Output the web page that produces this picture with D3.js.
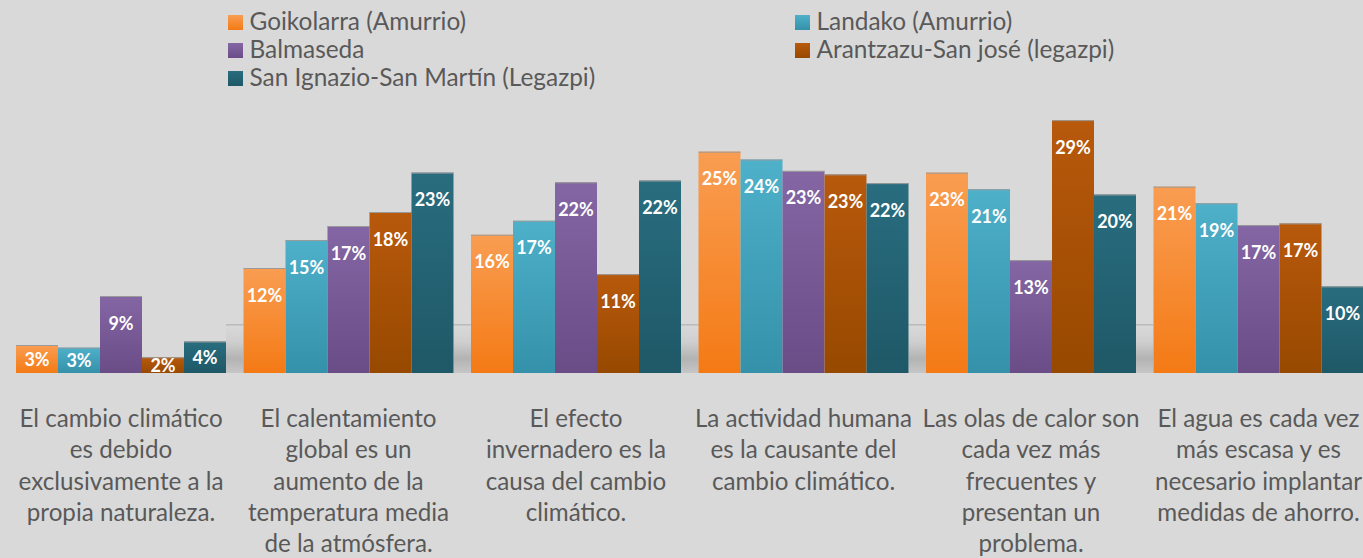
<!DOCTYPE html>
<html><head><meta charset="utf-8">
<script src="https://cdn.jsdelivr.net/npm/d3@7"></script>
<style>
html,body{margin:0;padding:0;background:#d9d9d9;overflow:hidden}
svg{display:block}
</style></head>
<body>
<script>
// ---- data ----
const categories = [
  "El cambio climático\nes debido\nexclusivamente a la\npropia naturaleza.",
  "El calentamiento\nglobal es un\naumento de la\ntemperatura media\nde la atmósfera.",
  "El efecto\ninvernadero es la\ncausa del cambio\nclimático.",
  "La actividad humana\nes la causante del\ncambio climático.",
  "Las olas de calor son\ncada vez más\nfrecuentes y\npresentan un\nproblema.",
  "El agua es cada vez\nmás escasa y es\nnecesario implantar\nmedidas de ahorro."
];
const seriesNames = [
  "Goikolarra (Amurrio)",
  "Landako (Amurrio)",
  "Balmaseda",
  "Arantzazu-San josé (legazpi)",
  "San Ignazio-San Martín (Legazpi)"
];
const goikolarra = [3.2, 12.0, 15.8, 25.3, 22.9, 21.3];
const landako    = [2.9, 15.2, 17.4, 24.4, 21.0, 19.4];
const balmaseda  = [8.8, 16.8, 21.8, 23.1, 12.9, 16.9];
const arantzazu  = [1.8, 18.4, 11.3, 22.7, 28.9, 17.1];
const sanIgnazio = [3.6, 22.9, 22.0, 21.7, 20.4, 9.9];
const seriesValues = [goikolarra, landako, balmaseda, arantzazu, sanIgnazio];
const colorsTop    = ["#f99d52", "#4eb0c9", "#8366a3", "#b8590c", "#286d7f"];
const colorsBottom = ["#f47a15", "#3591aa", "#6a4d87", "#974900", "#1f5867"];

// ---- layout ----
const W = 1363, H = 558;
const FONT = "Lato, 'Open Sans', sans-serif";
const svg = d3.select("body").append("svg").attr("width", W).attr("height", H);
svg.append("rect").attr("width", W).attr("height", H).attr("fill", "#d9d9d9");
const defs = svg.append("defs");
seriesNames.forEach((s, i) => {
  const g = defs.append("linearGradient").attr("id", "g" + i)
    .attr("x1", 0).attr("y1", 0).attr("x2", 0).attr("y2", 1);
  g.append("stop").attr("offset", "0%").attr("stop-color", colorsTop[i]);
  g.append("stop").attr("offset", "100%").attr("stop-color", colorsBottom[i]);
});
const sh = defs.append("linearGradient").attr("id", "shadow")
  .attr("x1", 0).attr("y1", 0).attr("x2", 0).attr("y2", 1);
sh.append("stop").attr("offset", "0%").attr("stop-color", "#d9d9d9");
sh.append("stop").attr("offset", "35%").attr("stop-color", "#cfcfcf");
sh.append("stop").attr("offset", "70%").attr("stop-color", "#b3b3b3");
sh.append("stop").attr("offset", "100%").attr("stop-color", "#c6c6c6");

const baseY = 373;
const x0 = d3.scaleBand().domain(d3.range(categories.length))
  .range([7.25, 1372.25]).paddingInner(17.5 / 227.5).paddingOuter(17.5 / 227.5 / 2);
const x1 = d3.scaleBand().domain(d3.range(seriesNames.length)).range([0, x0.bandwidth()]);
const y = d3.scaleLinear().domain([0, 30]).range([baseY, 110.5]);

// shadows in gaps between groups
const gaps = d3.range(categories.length - 1);
const shadowTop = y(5.5);
svg.append("g").selectAll("rect").data(gaps).join("rect")
  .attr("x", d => x0(d) + x0.bandwidth())
  .attr("width", x0.step() - x0.bandwidth())
  .attr("y", shadowTop).attr("height", baseY - shadowTop)
  .attr("fill", "url(#shadow)");
svg.append("g").selectAll("line").data(gaps).join("line")
  .attr("x1", d => x0(d) + x0.bandwidth())
  .attr("x2", d => x0(d + 1))
  .attr("y1", shadowTop).attr("y2", shadowTop)
  .attr("stroke", "#ababab").attr("stroke-width", 1);

// bars
const groups = svg.append("g").selectAll("g").data(categories).join("g")
  .attr("transform", (d, i) => `translate(${x0(i)},0)`);
const cells = groups.selectAll("g").data((d, ci) => seriesValues.map((vals, si) => ({ci, si, v: vals[ci]})))
  .join("g");
cells.append("rect")
  .attr("x", d => x1(d.si))
  .attr("width", x1.bandwidth())
  .attr("y", d => y(d.v))
  .attr("height", d => baseY - y(d.v))
  .attr("fill", d => `url(#g${d.si})`);
cells.append("line")
  .attr("x1", d => x1(d.si)).attr("x2", d => x1(d.si) + x1.bandwidth())
  .attr("y1", d => y(d.v) + 0.5).attr("y2", d => y(d.v) + 0.5)
  .attr("stroke", "#9a9a9a").attr("stroke-width", 1);
cells.append("text")
  .attr("x", d => x1(d.si) + x1.bandwidth() / 2)
  .attr("y", d => {
    const h = baseY - y(d.v);
    return y(d.v) + Math.min(27, h / 2) + 6.5;
  })
  .attr("text-anchor", "middle")
  .attr("font-family", FONT)
  .attr("font-weight", "bold")
  .attr("font-size", 18)
  .attr("fill", "#ffffff")
  .text(d => Math.round(d.v) + "%");

// category labels
const lab = svg.append("g").selectAll("text").data(categories).join("text")
  .attr("x", (d, i) => x0(i) + x0.bandwidth() / 2)
  .attr("y", 427)
  .attr("text-anchor", "middle")
  .attr("font-family", FONT)
  .attr("font-size", 24.2)
  .attr("fill", "#595959");
lab.selectAll("tspan").data(d => d.split("\n")).join("tspan")
  .attr("x", function() { return this.parentNode.getAttribute("x"); })
  .attr("dy", (d, i) => i === 0 ? 0 : 31.3)
  .text(d => d);

// legend
const legPos = [[228, 30], [795, 30], [228, 58], [795, 58], [228, 86]];
const leg = svg.append("g").selectAll("g").data(seriesNames).join("g")
  .attr("transform", (d, i) => `translate(${legPos[i][0]},${legPos[i][1]})`);
leg.append("rect").attr("x", 0).attr("y", -15).attr("width", 15).attr("height", 15)
  .attr("fill", (d, i) => `url(#g${i})`);
leg.append("text").attr("x", 21.5).attr("y", -0.5)
  .attr("font-family", FONT)
  .attr("font-size", 24.4)
  .attr("fill", "#595959")
  .text(d => d);
</script>
</body></html>
